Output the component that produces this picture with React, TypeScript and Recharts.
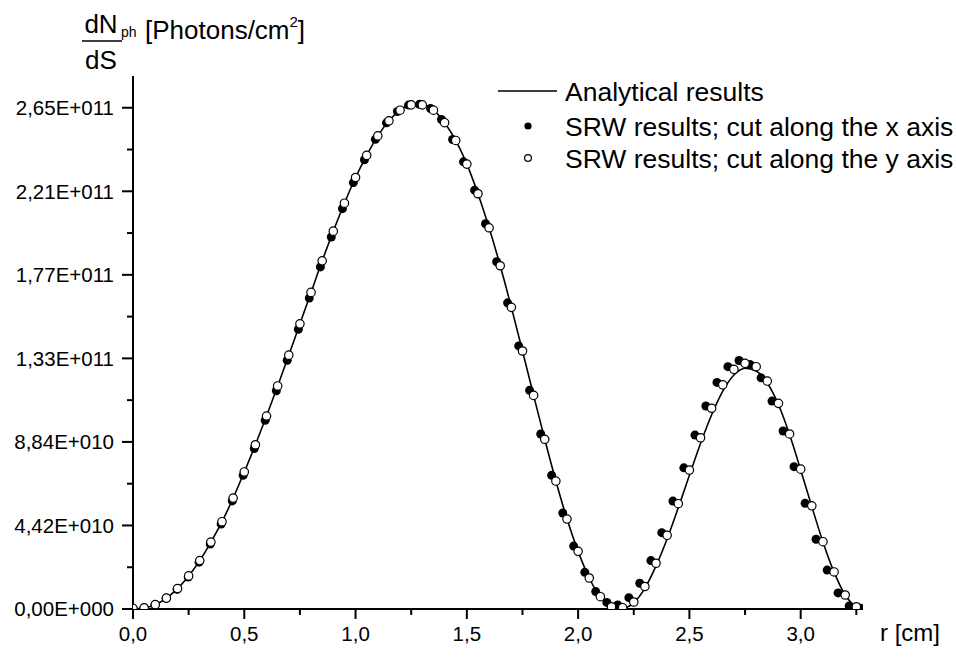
import React from "react";
import { ComposedChart, Line, Scatter, XAxis, YAxis } from "recharts";

// r [cm] and dN/dS in units of 1E+009 photons/cm^2
const analyticR = [
  0, 0.05, 0.1, 0.15, 0.2, 0.25, 0.3, 0.35, 0.4, 0.45, 0.5, 0.55, 0.6, 0.65,
  0.7, 0.75, 0.8, 0.85, 0.9, 0.95, 1.0, 1.05, 1.1, 1.15, 1.2, 1.25, 1.3, 1.35,
  1.4, 1.45, 1.5, 1.55, 1.6, 1.65, 1.7, 1.75, 1.8, 1.85, 1.9, 1.95, 2.0, 2.05,
  2.1, 2.15, 2.2, 2.25, 2.3, 2.35, 2.4, 2.45, 2.5, 2.55, 2.6, 2.65, 2.7, 2.75,
  2.8, 2.85, 2.9, 2.95, 3.0, 3.05, 3.1, 3.15, 3.2, 3.25, 3.275,
];
const analyticValues = [
  0, 0.6, 2.3, 5.8, 10.8, 17.5, 25.6, 35.4, 46.2, 58.7, 72.5, 86.9, 102.1,
  118.0, 134.3, 150.9, 167.5, 184.2, 199.9, 214.7, 228.3, 240.0, 250.3, 258.3,
  263.9, 266.7, 266.7, 263.9, 257.3, 247.9, 235.4, 219.7, 201.7, 181.6, 159.6,
  136.5, 113.0, 89.8, 67.7, 47.6, 30.5, 16.4, 6.3, 1.2, 0.4, 3.2, 11.0, 22.8,
  37.2, 53.6, 70.8, 87.6, 102.8, 115.3, 123.8, 127.4, 125.9, 119.6, 108.2,
  92.3, 73.6, 54.2, 35.5, 19.5, 7.4, 1.1, 0,
];

const xCutR = [
  0, 0.05, 0.099, 0.149, 0.198, 0.248, 0.297, 0.347, 0.396, 0.446, 0.495,
  0.545, 0.594, 0.644, 0.693, 0.743, 0.792, 0.842, 0.891, 0.941, 0.99, 1.04,
  1.089, 1.139, 1.188, 1.238, 1.287, 1.337, 1.386, 1.436, 1.485, 1.535, 1.584,
  1.634, 1.683, 1.733, 1.782, 1.832, 1.881, 1.931, 1.98, 2.03, 2.079, 2.129,
  2.178, 2.228, 2.277, 2.327, 2.376, 2.426, 2.475, 2.525, 2.574, 2.624, 2.673,
  2.723, 2.772, 2.822, 2.871, 2.921, 2.97, 3.02, 3.069, 3.119, 3.168, 3.218,
  3.267,
];
const xCutValues = [
  0, 0.5, 2.2, 5.6, 10.4, 16.9, 24.8, 34.4, 45.0, 57.2, 70.7, 84.9, 99.8,
  115.5, 131.6, 148.0, 164.5, 181.0, 196.8, 211.8, 225.6, 237.7, 248.5, 257.2,
  263.2, 266.6, 267.0, 264.8, 259.0, 248.4, 236.6, 221.6, 203.8, 183.7, 162.0,
  139.2, 115.7, 92.6, 70.7, 50.8, 33.3, 19.4, 9.2, 3.5, 2.1, 6.0, 13.6, 25.6,
  40.4, 57.1, 74.7, 92.0, 107.4, 119.9, 128.2, 131.5, 129.4, 122.3, 110.0,
  94.2, 75.3, 55.9, 36.9, 20.6, 8.5, 1.6, 0.5,
];

const yCutR = [
  0, 0.05, 0.1, 0.15, 0.2, 0.25, 0.3, 0.35, 0.4, 0.45, 0.5, 0.55, 0.6, 0.65,
  0.7, 0.75, 0.8, 0.85, 0.9, 0.95, 1.0, 1.05, 1.1, 1.15, 1.2, 1.25, 1.3, 1.35,
  1.4, 1.45, 1.5, 1.55, 1.6, 1.65, 1.7, 1.75, 1.8, 1.85, 1.9, 1.95, 2.0, 2.05,
  2.1, 2.15, 2.2, 2.25, 2.3, 2.35, 2.4, 2.45, 2.5, 2.55, 2.6, 2.65, 2.7, 2.75,
  2.8, 2.85, 2.9, 2.95, 3.0, 3.05, 3.1, 3.15, 3.2, 3.25,
];
const yCutValues = [
  0.3, 0.6, 2.3, 5.8, 10.8, 17.5, 25.6, 35.4, 46.2, 58.7, 72.5, 86.9, 102.1,
  118.0, 134.3, 150.9, 167.5, 184.2, 199.9, 214.7, 228.3, 240.0, 250.3, 258.3,
  263.9, 266.7, 266.7, 263.9, 257.3, 247.9, 235.4, 219.7, 201.7, 181.6, 159.6,
  136.5, 113.0, 89.8, 67.7, 47.6, 30.5, 16.4, 6.5, 1.2, 0.7, 3.7, 11.9, 24.2,
  39.0, 55.7, 73.5, 90.6, 106.2, 118.6, 126.8, 130.0, 128.2, 120.6, 108.8,
  92.6, 74.0, 54.6, 35.6, 19.6, 7.4, 1.1,
];

const xMajorTicks = [0, 0.5, 1.0, 1.5, 2.0, 2.5, 3.0];
const xMajorLabels = ["0,0", "0,5", "1,0", "1,5", "2,0", "2,5", "3,0"];
const xMinorTicks = [0.25, 0.75, 1.25, 1.75, 2.25, 2.75, 3.25];

const yMajorTicks = [0, 44.2, 88.4, 132.6, 176.8, 221.0, 265.2];
const yMajorLabels = [
  "0,00E+000",
  "4,42E+010",
  "8,84E+010",
  "1,33E+011",
  "1,77E+011",
  "2,21E+011",
  "2,65E+011",
];
const yMinorTicks = [22.1, 66.3, 110.5, 154.7, 198.9, 243.1];

const FONT = "'Liberation Sans', Arial, sans-serif";

function XTick(props: any) {
  const { x, y, payload } = props;
  const i = xMajorTicks.indexOf(payload.value);
  const major = i >= 0;
  return (
    <g>
      <line x1={x} y1={y} x2={x} y2={y + (major ? 10 : 6)} stroke="#000" strokeWidth={2} />
      {major && (
        <text x={x} y={y + 32} textAnchor="middle" fontSize={20.5} fontFamily={FONT} fill="#000">
          {xMajorLabels[i]}
        </text>
      )}
    </g>
  );
}

function YTick(props: any) {
  const { x, y, payload } = props;
  const i = yMajorTicks.indexOf(payload.value);
  const major = i >= 0;
  return (
    <g>
      <line x1={x} y1={y} x2={x - (major ? 11 : 6)} y2={y} stroke="#000" strokeWidth={2} />
      {major && (
        <text x={x - 19} y={y} dy="0.36em" textAnchor="end" fontSize={20.5} fontFamily={FONT} fill="#000">
          {yMajorLabels[i]}
        </text>
      )}
    </g>
  );
}

const FilledDot = (p: any) => <circle cx={p.cx} cy={p.cy} r={4.5} fill="#000" />;
const OpenDot = (p: any) => (
  <circle cx={p.cx} cy={p.cy} r={4.2} fill="#fff" stroke="#000" strokeWidth={1.2} />
);

export default function App() {
  const lineData = analyticR.map((r, i) => ({ r, v: analyticValues[i] }));
  const xCut = xCutR.map((r, i) => ({ r, v: xCutValues[i] }));
  const yCut = yCutR.map((r, i) => ({ r, v: yCutValues[i] }));
  const xTicks = [...xMajorTicks, ...xMinorTicks].sort((a, b) => a - b);
  const yTicks = [...yMajorTicks, ...yMinorTicks].sort((a, b) => a - b);

  return (
    <div
      style={{
        position: "absolute",
        left: 0,
        top: 0,
        width: 956,
        height: 658,
        background: "#fff",
        fontFamily: FONT,
      }}
    >
      <ComposedChart
        width={956}
        height={658}
        margin={{ top: 76, right: 93, bottom: 19, left: 73 }}
      >
        <XAxis
          type="number"
          dataKey="r"
          domain={[0, 3.28]}
          allowDataOverflow
          ticks={xTicks}
          interval={0}
          height={30}
          tickSize={0}
          tickMargin={0}
          tickLine={false}
          axisLine={{ stroke: "#000", strokeWidth: 2 }}
          tick={<XTick />}
        />
        <YAxis
          type="number"
          dataKey="v"
          domain={[0, 282]}
          allowDataOverflow
          ticks={yTicks}
          interval={0}
          width={60}
          tickSize={0}
          tickMargin={0}
          tickLine={false}
          axisLine={{ stroke: "#000", strokeWidth: 2 }}
          tick={<YTick />}
        />
        <Line
          data={lineData}
          dataKey="v"
          type="monotone"
          stroke="#000"
          strokeWidth={1.6}
          dot={false}
          isAnimationActive={false}
        />
        <Scatter data={xCut} dataKey="v" shape={FilledDot} isAnimationActive={false} />
        <Scatter data={yCut} dataKey="v" shape={OpenDot} isAnimationActive={false} />
      </ComposedChart>

      <svg
        width={956}
        height={658}
        style={{ position: "absolute", left: 0, top: 0, pointerEvents: "none" }}
        fontFamily={FONT}
      >
        <text x={101} y={33} textAnchor="middle" fontSize={26}>dN</text>
        <line x1={82} y1={41} x2={122} y2={41} stroke="#000" strokeWidth={1.5} />
        <text x={101} y={69} textAnchor="middle" fontSize={26}>dS</text>
        <text x={121} y={37} fontSize={14}>ph</text>
        <text x={145} y={39} fontSize={26}>
          [Photons/cm<tspan dy={-12} fontSize={15}>2</tspan>
          <tspan dy={12}>]</tspan>
        </text>

        <text x={880} y={641} fontSize={24}>r [cm]</text>

        <line x1={498} y1={91} x2={557} y2={91} stroke="#000" strokeWidth={1.5} />
        <text x={565} y={91} dy="0.36em" fontSize={26.5}>Analytical results</text>
        <circle cx={528} cy={126} r={3.6} fill="#000" />
        <text x={565} y={126} dy="0.36em" fontSize={26.5}>SRW results; cut along the x axis</text>
        <circle cx={528} cy={158} r={3.4} fill="#fff" stroke="#000" strokeWidth={1.2} />
        <text x={565} y={158} dy="0.36em" fontSize={26.5}>SRW results; cut along the y axis</text>
      </svg>
    </div>
  );
}
